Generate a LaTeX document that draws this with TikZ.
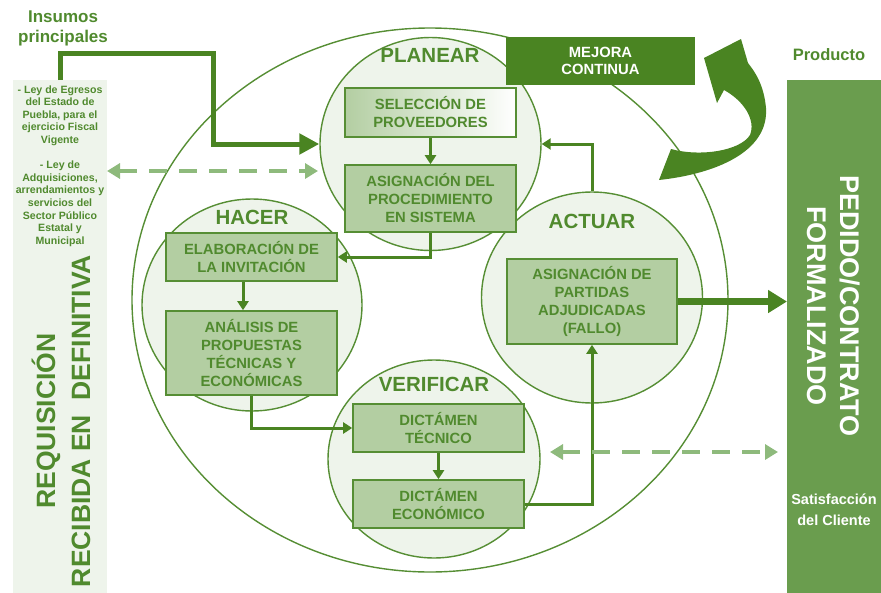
\documentclass[tikz,border=0pt]{standalone}
\usepackage{fontspec}
\setmainfont{Liberation Sans}
\usetikzlibrary{arrows.meta,shapes.geometric,calc}
\definecolor{dkg}{RGB}{74,132,34}
\definecolor{txg}{RGB}{80,138,46}
\definecolor{lnc}{RGB}{86,142,52}
\definecolor{boxf}{RGB}{179,206,162}
\definecolor{lightf}{RGB}{238,244,235}
\definecolor{barf}{RGB}{106,157,78}
\definecolor{dashg}{RGB}{142,186,124}
\tikzset{
  cyc/.style={ellipse, draw=lnc, line width=1.4pt, fill=lightf, inner sep=0pt},
  pbox/.style={rectangle, draw=lnc, line width=1.6pt, fill=boxf, minimum width=171pt,
    align=center, text=txg, font=\fontsize{14.8}{18}\selectfont\bfseries, inner sep=0pt},
  phase/.style={text=txg, font=\fontsize{20.5}{24}\selectfont\bfseries, inner sep=0pt},
  smallarr/.style={draw=dkg, line width=3pt, -{Triangle[length=9pt,width=11pt]}},
  bigarr/.style={draw=dkg, line width=5pt, -{Triangle[length=20pt,width=20pt]}},
  outarr/.style={draw=dkg, line width=6.5pt, -{Triangle[length=19pt,width=22pt]}},
  dasharr/.style={draw=dashg, line width=4pt, dash pattern=on 18pt off 12pt,
    {Triangle[length=13pt,width=15pt]}-{Triangle[length=13pt,width=15pt]}},
  bar/.style={rectangle, anchor=north west, inner sep=0pt, minimum width=94pt, minimum height=530pt},
}
\begin{document}
\begin{tikzpicture}[x=1pt,y=-1pt]
\useasboundingbox (0,0) rectangle (881,592);
% side bars
\node[bar, fill=lightf] (lbar) at (13,80) {};
\node[bar, fill=barf] (rbar) at (787,80) {};
% outer ellipse
\node[ellipse, draw=lnc, line width=1.4pt, minimum width=596pt, minimum height=544pt, inner sep=0pt] (outer) at (430,300) {};
% phase circles
\node[cyc, minimum width=221pt, minimum height=213pt] (planC) at (430.5,144) {};
\node[cyc, minimum width=220pt, minimum height=212pt] (hacC) at (252,305) {};
\node[cyc, minimum width=212pt, minimum height=198pt] (verC) at (434,459) {};
\node[cyc, minimum width=221pt, minimum height=211pt] (actC) at (592,297.5) {};
% labels of phases
\node[phase] (planL) at (430,55.5) {PLANEAR};
\node[phase] (hacL) at (252,217.5) {HACER};
\node[phase] (actL) at (592,221) {ACTUAR};
\node[phase] (verL) at (434,384.5) {VERIFICAR};
% process boxes
\node[pbox, minimum height=49pt, left color=boxf, right color=white] (sel) at (430.5,112.5) {SELECCIÓN DE\\PROVEEDORES};
\node[pbox, minimum height=67pt] (asig) at (430.5,198.5) {ASIGNACIÓN DEL\\PROCEDIMIENTO\\EN SISTEMA};
\node[pbox, minimum height=48pt] (elab) at (251.5,257) {ELABORACIÓN DE\\LA INVITACIÓN};
\node[pbox, minimum height=84pt] (anal) at (251.5,353) {ANÁLISIS DE\\PROPUESTAS\\TÉCNICAS Y\\ECONÓMICAS};
\node[pbox, minimum height=48pt] (tec) at (438.5,428) {DICTÁMEN\\TÉCNICO};
\node[pbox, minimum height=48pt] (econ) at (438.5,504) {DICTÁMEN\\ECONÓMICO};
\node[pbox, minimum width=170pt, minimum height=85pt] (part) at (592,301.5) {ASIGNACIÓN DE\\PARTIDAS\\ADJUDICADAS\\(FALLO)};
% mejora continua
\node[rectangle, fill=dkg, minimum width=189pt, minimum height=48pt, inner sep=0pt, text=white,
  align=center, font=\fontsize{14.8}{17.5}\selectfont\bfseries] (mejora) at (600.5,61) {MEJORA\\CONTINUA};
% curved block arrow
\fill[dkg] (659,180) .. controls (715,174) and (769,152) .. (766,108)
  .. controls (764,86) and (756,73) .. (748,63) -- (741,39) -- (704,58) -- (717,103) -- (724,90)
  .. controls (744,101) and (756,120) .. (750,135)
  .. controls (740,151) and (700,157) .. (671,149) -- cycle;
% texts
\node[text=txg, font=\fontsize{17}{20}\selectfont\bfseries, align=center, inner sep=0pt] (insumos) at (63,28.5) {Insumos\\principales};
\node[text=txg, font=\fontsize{16.5}{20}\selectfont\bfseries, inner sep=0pt] (producto) at (829,54.5) {Producto};
\node[text=txg, font=\fontsize{10.6}{12.6}\selectfont\bfseries, align=center, inner sep=0pt] (leyes) at (60,166)
  {- Ley de Egresos\\del Estado de\\Puebla, para el\\ejercicio Fiscal\\Vigente\\[12.6pt]- Ley de\\Adquisiciones,\\arrendamientos y\\servicios del\\Sector Público\\Estatal y\\Municipal};
\node[rotate=90, text=txg, font=\fontsize{26.5}{35}\selectfont\bfseries, align=center, inner sep=0pt] (req) at (61,421)
  {REQUISICIÓN\\RECIBIDA EN\ \ DEFINITIVA};
\node[rotate=-90, text=white, font=\fontsize{27}{33}\selectfont\bfseries, align=center, inner sep=0pt] (ped) at (834,306)
  {PEDIDO/CONTRATO\\FORMALIZADO};
\node[text=white, font=\fontsize{14.5}{21}\selectfont\bfseries, align=center, inner sep=0pt] (satis) at (834,510)
  {Satisfacción\\del Cliente};
% connectors
\coordinate (c1) at (213,53);
\draw[bigarr] (lbar.north) |- (c1) |- (planC.west);
\coordinate (d1a) at (107,171);
\coordinate (d1b) at (318,171);
\draw[smallarr] (sel) -- (asig);
\draw[smallarr] (asig.south) |- (elab.east);
\draw[smallarr] ([xshift=-8.5pt]elab.south) -- ([xshift=-8.5pt]anal.north);
\draw[smallarr] (anal.south) |- (tec.west);
\draw[smallarr] (tec) -- (econ);
\draw[smallarr] (econ.east) -| (part.south);
\draw[smallarr] (actC.north) |- (planC.east);
\draw[outarr] (part.east) -- (part.east -| rbar.west);
\coordinate (d2a) at (550,452);
\coordinate (d2b) at (778,452);
\draw[dasharr] (d1a) -- (d1b);
\draw[dasharr] (d2a) -- (d2b);
\end{tikzpicture}
\end{document}
